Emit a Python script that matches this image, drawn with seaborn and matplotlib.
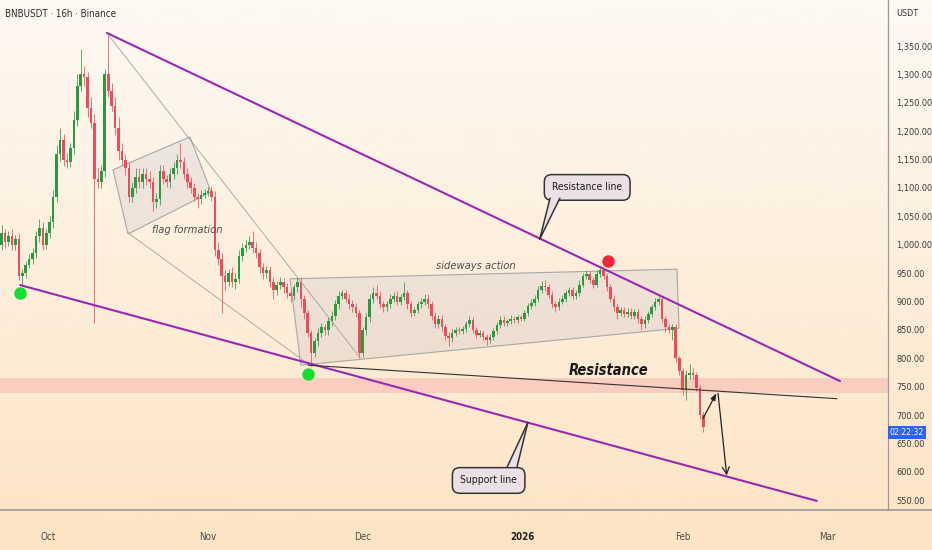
import numpy as np
import pandas as pd
import matplotlib
matplotlib.use("Agg")
import matplotlib.pyplot as plt
import seaborn as sns
from matplotlib.patches import Polygon
from matplotlib.colors import LinearSegmentedColormap
from matplotlib.transforms import blended_transform_factory

# BNBUSDT 16h candles, x = days since 22 Sep 2025
first_open = 1000
closes = [
    1020, 1005, 1015, 1000, 1010, 945, 950, 965, 975, 985,
    1015, 1030, 1000, 1020, 1040, 1085, 1160, 1185, 1150, 1145,
    1170, 1220, 1280, 1300, 1295, 1240, 1215, 1115, 1110, 1130,
    1300, 1270, 1245, 1205, 1165, 1150, 1135, 1085, 1100, 1120,
    1110, 1125, 1115, 1110, 1075, 1080, 1130, 1115, 1110, 1125,
    1135, 1150, 1145, 1125, 1110, 1100, 1085, 1080, 1088, 1092,
    1095, 1085, 990, 975, 945, 935, 950, 935, 940, 980,
    995, 1000, 1005, 995, 985, 960, 950, 955, 935, 920,
    930, 935, 925, 915, 910, 925, 935, 905, 880, 845,
    810, 830, 845, 855, 850, 865, 875, 895, 910, 915,
    905, 895, 890, 880, 810, 850, 872, 905, 915, 910,
    895, 890, 895, 905, 910, 900, 908, 915, 895, 880,
    885, 895, 900, 905, 895, 875, 860, 870, 855, 840,
    835, 845, 850, 848, 852, 860, 868, 850, 842, 845,
    838, 832, 838, 848, 858, 868, 862, 865, 870, 868,
    872, 870, 880, 892, 898, 905, 920, 928, 925, 912,
    895, 890, 900, 905, 915, 920, 910, 915, 930, 945,
    948, 938, 930, 948, 955, 945, 925, 905, 890, 880,
    885, 878, 882, 875, 882, 870, 860, 868, 878, 890,
    900, 905, 870, 855, 850, 855, 800, 778, 745, 770,
    775, 770, 748, 700, 680,
]
wick_up = [
    15, 8, 10, 12, 8, 10, 8, 6, 8, 10,
    10, 15, 10, 8, 10, 12, 15, 20, 10, 12,
    10, 15, 20, 45, 15, 10, 20, 15, 20, 10,
    10, 73, 15, 15, 20, 15, 10, 10, 10, 15,
    15, 10, 10, 15, 10, 12, 10, 10, 8, 10,
    10, 10, 30, 10, 10, 10, 8, 6, 8, 6,
    6, 8, 10, 15, 10, 10, 8, 10, 10, 10,
    8, 8, 10, 20, 10, 8, 8, 8, 8, 8,
    6, 8, 6, 8, 8, 6, 8, 8, 6, 6,
    5, 6, 8, 8, 6, 8, 8, 8, 8, 6,
    6, 8, 8, 8, 6, 6, 8, 8, 10, 14,
    8, 6, 6, 8, 6, 8, 6, 20, 6, 6,
    6, 6, 6, 8, 8, 6, 6, 6, 6, 6,
    6, 6, 5, 5, 5, 6, 6, 5, 5, 5,
    5, 5, 5, 6, 6, 6, 6, 5, 6, 5,
    5, 5, 6, 6, 6, 6, 8, 8, 10, 6,
    6, 6, 6, 6, 6, 6, 6, 6, 8, 6,
    6, 6, 6, 8, 5, 3, 6, 6, 6, 6,
    6, 6, 6, 6, 5, 5, 5, 6, 6, 6,
    6, 5, 5, 5, 5, 5, 5, 5, 5, 10,
    15, 8, 6, 5, 5,
]
wick_dn = [
    10, 10, 8, 10, 10, 7, 15, 8, 6, 8,
    8, 10, 10, 8, 8, 10, 10, 12, 12, 10,
    8, 10, 10, 10, 15, 15, 10, 253, 10, 10,
    10, 10, 10, 12, 15, 10, 12, 10, 10, 8,
    10, 10, 10, 10, 15, 10, 10, 8, 8, 10,
    10, 10, 10, 10, 10, 8, 8, 15, 8, 6,
    6, 8, 10, 10, 65, 15, 8, 10, 12, 8,
    8, 8, 8, 10, 8, 10, 10, 8, 10, 15,
    8, 8, 10, 8, 10, 8, 8, 15, 10, 8,
    22, 8, 8, 8, 8, 8, 8, 8, 8, 6,
    6, 8, 8, 8, 10, 8, 8, 8, 8, 6,
    6, 8, 6, 6, 6, 6, 6, 6, 8, 8,
    6, 6, 6, 6, 6, 8, 6, 6, 6, 8,
    13, 6, 5, 5, 5, 5, 5, 6, 6, 5,
    5, 9, 5, 5, 5, 5, 5, 5, 5, 5,
    5, 5, 5, 5, 5, 5, 5, 5, 6, 6,
    6, 8, 5, 5, 5, 5, 6, 5, 5, 5,
    5, 6, 6, 5, 5, 6, 6, 6, 6, 10,
    6, 6, 6, 6, 5, 8, 10, 6, 5, 5,
    5, 6, 6, 8, 6, 18, 6, 8, 10, 18,
    6, 6, 6, 6, 10,
]
candle_step = 2 / 3

month_days = [9, 40, 70, 101, 132, 160]
month_labels = ["Oct", "Nov", "Dec", "2026", "Feb", "Mar"]
price_ticks = list(range(550, 1351, 50))

# drawings (day, price)
resistance_trend = ([20.4, 162.5], [1373, 760])
support_trend = ([3.6, 158.0], [929, 549])
resistance_level = ([59.4, 161.9], [788, 729])
wedge_upper = ([20.4, 69.5], [1373, 801])
wedge_lower = ([24.5, 60.2], [1021, 785])
flag_days = [21.6, 36.5, 40.6, 24.5]
flag_prices = [1132, 1190, 1093, 1019]
side_days = [55.9, 130.9, 131.3, 58.0]
side_prices = [940, 957, 853, 788]
zone_low, zone_high = 739, 765
path_days = [135.7, 138.8, 140.6]
path_prices = [690, 743, 589]
green_dots = ([3.6, 59.4], [915, 773])
red_dot = ([117.5], [971])
last_price = 670

df = pd.DataFrame({"close": closes})
df["open"] = [first_open] + closes[:-1]
df["high"] = df[["open", "close"]].max(axis=1) + wick_up
df["low"] = df[["open", "close"]].min(axis=1) - wick_dn
df["day"] = df.index * candle_step
df["up"] = df["close"] >= df["open"]

sns.set_style("white")
plt.rcParams["font.family"] = ["DejaVu Sans"]
plt.rcParams["font.stretch"] = "condensed"

fig = plt.figure(figsize=(9.32, 5.5), dpi=100)

# background gradient
bg = fig.add_axes([0, 0, 1, 1], zorder=-10)
cmap = LinearSegmentedColormap.from_list("bg", ["#fde4c4", "#fdf9f3"])
bg.imshow(np.linspace(0, 1, 256).reshape(-1, 1), aspect="auto", cmap=cmap,
          extent=[0, 1, 0, 1], origin="lower")
bg.axis("off")

ax = fig.add_axes([0, 40 / 550, 888 / 932, 510 / 550])
ax.set_facecolor("none")
ax.set_xlim(-0.31, 171.8)
ax.set_ylim(533, 1431)

green, red = "#2a9a3e", "#ec4d5c"
colors = np.where(df["up"], green, red)

ax.axhspan(zone_low, zone_high, color="#f7bfb8", alpha=0.65, lw=0, zorder=1)

ax.vlines(df["day"], df["low"], df["high"], colors=colors, lw=0.55, zorder=3)
body_lo = df[["open", "close"]].min(axis=1)
body_h = (df["close"] - df["open"]).abs().clip(lower=1.5)
ax.bar(df["day"], body_h, bottom=body_lo, width=0.5, color=colors, lw=0, zorder=3)

for xs, ys in [(flag_days, flag_prices), (side_days, side_prices)]:
    pts = list(zip(xs, ys))
    ax.add_patch(Polygon(pts, closed=True, fc="#aaa8c0", alpha=0.18, ec="none", zorder=2))
    ax.add_patch(Polygon(pts, closed=True, fill=False, ec="#a8a8a8", lw=0.8, zorder=2))

for xs, ys in [wedge_upper, wedge_lower]:
    ax.plot(xs, ys, color="#a0a0a0", lw=0.6, zorder=4)

for xs, ys in [resistance_trend, support_trend]:
    sns.lineplot(x=xs, y=ys, ax=ax, color="#9c27b0", lw=1.5, zorder=5)
sns.lineplot(x=resistance_level[0], y=resistance_level[1], ax=ax,
             color="#333333", lw=0.8, zorder=5)

ax.annotate("", xy=(path_days[1], path_prices[1]), xytext=(path_days[0], path_prices[0]),
            arrowprops=dict(arrowstyle="-|>,head_length=0.4,head_width=0.15",
                            color="#222222", lw=0.9), zorder=6)
ax.annotate("", xy=(path_days[2], path_prices[2]), xytext=(path_days[1], path_prices[1]),
            arrowprops=dict(arrowstyle="->,head_length=0.5,head_width=0.25",
                            color="#222222", lw=0.9), zorder=6)

ax.scatter(green_dots[0], green_dots[1], s=80, color="#12e02e", zorder=7, lw=0)
ax.scatter(red_dot[0], red_dot[1], s=80, color="#f0263b", zorder=7, lw=0)

ax.text(35.9, 1026, "flag formation", fontsize=8, style="italic", color="#4f4f4f",
        ha="center", va="center", zorder=8)
ax.text(91.9, 962, "sideways action", fontsize=8, style="italic", color="#4f4f4f",
        ha="center", va="center", zorder=8)
ax.text(117.7, 778, "Resistance", fontsize=10.5, style="italic", fontweight="bold",
        color="#1a1a1a", ha="center", va="center", zorder=8)


def callout(text, cx, cy, tail):
    ax.text(cx, cy, text, fontsize=7.5, color="#1a1a1a", ha="center", va="center", zorder=9,
            bbox=dict(boxstyle="round,pad=0.75,rounding_size=0.7", fc="#ebe1e5",
                      ec="#333333", lw=1.1))
    ax.add_patch(Polygon(tail, closed=True, fc="#ebe1e5", ec="none", zorder=9.5))
    ax.plot([tail[0][0], tail[1][0]], [tail[0][1], tail[1][1]], color="#333333", lw=1.1, zorder=9.6)
    ax.plot([tail[2][0], tail[1][0]], [tail[2][1], tail[1][1]], color="#333333", lw=1.1, zorder=9.6)


callout("Resistance line", 113.5, 1101, [(106.3, 1082), (104.3, 1010), (108.2, 1082)])
callout("Support line", 94.4, 585, [(98.0, 609), (102.0, 687), (99.9, 609)])

# axes styling
for s in ["top", "left"]:
    ax.spines[s].set_visible(False)
ax.spines["right"].set_color("#9a9a9a")
ax.spines["bottom"].set_color("#9a9a9a")
ax.spines["right"].set_linewidth(0.9)
ax.spines["bottom"].set_linewidth(1.2)
ax.yaxis.tick_right()
ax.set_yticks(price_ticks)
ax.set_yticklabels([f"{v:,.2f}" for v in price_ticks])
ax.tick_params(axis="y", length=0, pad=6, labelsize=6.6, labelcolor="#3a3a3a")
ax.set_xticks(month_days)
ax.set_xticklabels(month_labels)
ax.tick_params(axis="x", length=0, pad=16, labelsize=7, labelcolor="#4a4a4a")
for lab in ax.get_xticklabels():
    if lab.get_text() == "2026":
        lab.set_fontweight("bold")
        lab.set_color("#222222")
ax.set_xlabel("")
ax.set_ylabel("")
ax.grid(False)

trans = blended_transform_factory(ax.transAxes, ax.transData)
ax.text(1.002, last_price, "02:22:32", transform=trans, ha="left", va="center",
        color="white", fontsize=6.2, clip_on=False, zorder=10,
        bbox=dict(boxstyle="square,pad=0.25", fc="#2962ff", ec="none"))

fig.add_artist(plt.Line2D([888 / 932, 1], [40 / 550, 40 / 550], color="#9a9a9a", lw=1.2))
fig.text(5 / 932, 1 - 14 / 550, "BNBUSDT · 16h · Binance", fontsize=7, color="#2a2a2a",
         va="center", ha="left")
fig.text(907 / 932, 1 - 14 / 550, "USDT", fontsize=6.5, color="#333333", va="center", ha="center",
         bbox=dict(boxstyle="round,pad=0.4,rounding_size=0.2", fc="#fffaf4", ec="none"))

fig.savefig("out.png", dpi=100)
